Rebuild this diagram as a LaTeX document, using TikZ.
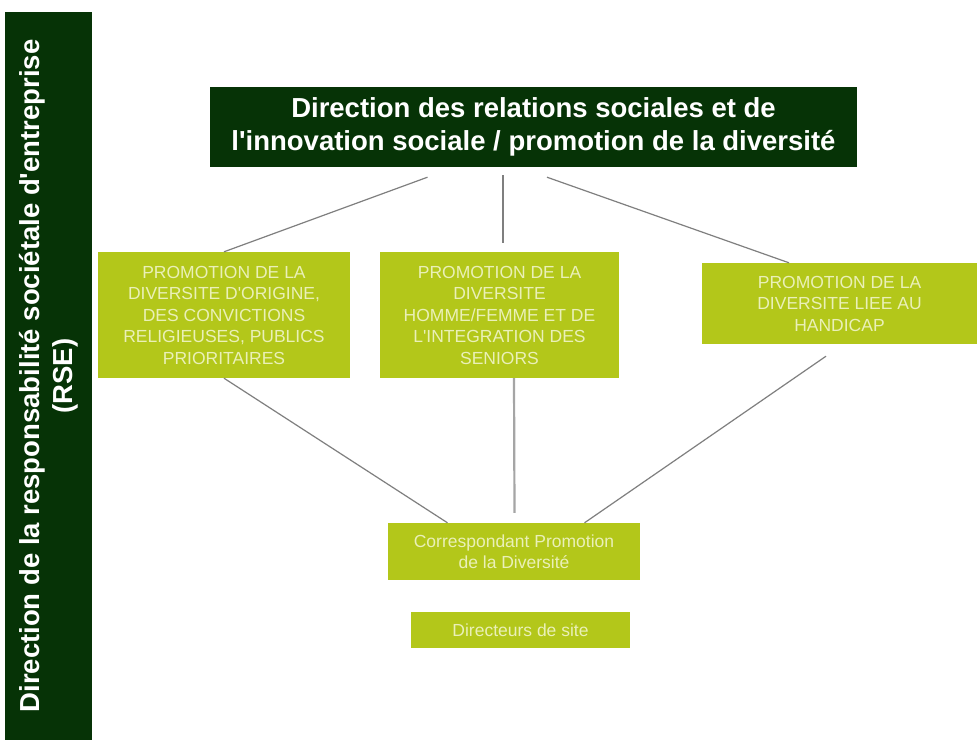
\documentclass[tikz,border=0pt]{standalone}
\usepackage{fontspec}
\setmainfont{Liberation Sans}
\usetikzlibrary{positioning,calc}
\definecolor{rsegreen}{HTML}{063306}
\definecolor{polegreen}{HTML}{B3C71A}
\definecolor{poletext}{HTML}{EAF0B8}
\definecolor{linkgray}{HTML}{7F7F7F}
\tikzset{
  dirbox/.style={fill=rsegreen, text=white, font=\bfseries\fontsize{27.5}{33}\selectfont, align=center, inner sep=0pt},
  polebox/.style={fill=polegreen, text=poletext, font=\fontsize{17.5}{21.5}\selectfont, align=center, inner sep=0pt},
  link/.style={draw=linkgray, line width=1.2pt}
}
\begin{document}
\begin{tikzpicture}[x=1pt,y=-1pt]
    \useasboundingbox[fill=white] (0,0) rectangle (977,740);
    % Directions
    \node[dirbox, rotate=90, minimum width=728pt, minimum height=87pt] (rse) at (48.5,376) {Direction de la responsabilité sociétale d\textquotesingle entreprise\\(RSE)};
    \node[dirbox, minimum width=647pt, minimum height=80pt] (top) at (533.5,127) {Direction des relations sociales et de\\l\textquotesingle innovation sociale / promotion de la diversité};
    % Poles
    \node[polebox, minimum width=252pt, minimum height=126pt] (origine) at (224,315) {PROMOTION DE LA\\DIVERSITE D\textquotesingle ORIGINE,\\DES CONVICTIONS\\RELIGIEUSES, PUBLICS\\PRIORITAIRES};
    \node[polebox, minimum width=239pt, minimum height=126pt] (genre) at (499.5,315) {PROMOTION DE LA\\DIVERSITE\\HOMME/FEMME ET DE\\L\textquotesingle INTEGRATION DES\\SENIORS};
    \node[polebox, minimum width=275pt, minimum height=81pt] (handicap) at (839.5,303.5) {PROMOTION DE LA\\DIVERSITE LIEE AU\\HANDICAP};
    \node[polebox, minimum width=252pt, minimum height=57pt] (corresp) at (514,551.5) {Correspondant Promotion\\de la Diversité};
    \node[polebox, minimum width=219pt, minimum height=36pt] (site) at (520.5,630) {Directeurs de site};
    % Links
    \draw[link] ([xshift=-106pt,yshift=-10pt]top.south) -- (origine.north);
    \draw[link] ([xshift=-30.5pt,yshift=-8pt]top.south) -- ([xshift=3.5pt,yshift=9pt]genre.north);
    \draw[link] ([xshift=13.5pt,yshift=-10pt]top.south) -- ([xshift=-50.5pt]handicap.north);
    \draw[link] (origine.south) -- ([xshift=-66.5pt]corresp.north);
    \draw[link, draw=linkgray!70, line width=2.2pt] ([xshift=14.5pt]genre.south) -- ([xshift=0.5pt,yshift=10pt]corresp.north);
    \draw[link] ([xshift=-13.5pt,yshift=-12pt]handicap.south) -- ([xshift=70.5pt]corresp.north);
\end{tikzpicture}
\end{document}
